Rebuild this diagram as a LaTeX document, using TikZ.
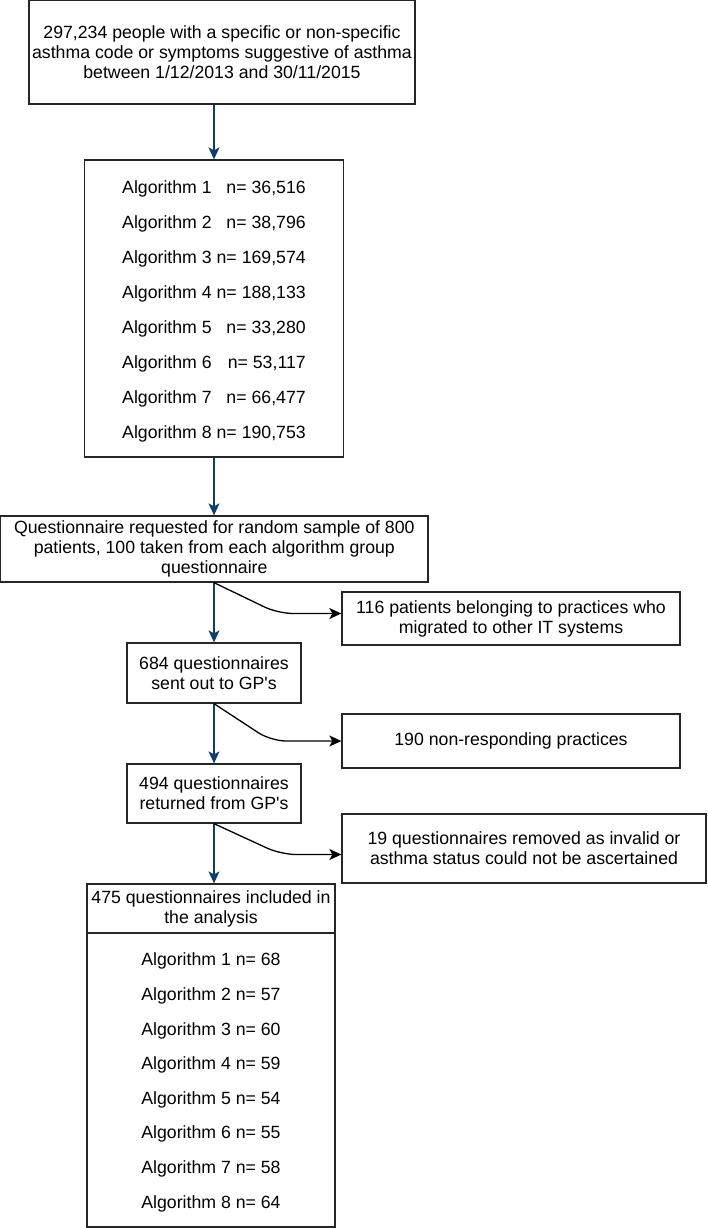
\documentclass[tikz,border=0pt]{standalone}
\usepackage{fontspec}
\setmainfont{Liberation Sans}
\usetikzlibrary{arrows.meta,calc}
\definecolor{navy}{HTML}{103D6E}
\tikzset{
  flowbox/.style={draw=black!85, line width=1.3pt, fill=white, inner sep=0pt, align=center,
    font=\fontsize{17.7}{20}\selectfont},
  downarrow/.style={draw=navy, line width=1.3pt, -{Stealth[length=12pt,width=11pt,inset=3pt]}},
  sidearrow/.style={draw=black, line width=1.3pt, rounded corners=15pt,
    -{Stealth[length=12pt,width=11pt,inset=3pt]}}
}
\begin{document}
\begin{tikzpicture}[x=1pt,y=-1pt]
            \useasboundingbox (0,0) rectangle (707,1228);

            % Main column
            \node[flowbox, minimum width=386pt, minimum height=103.3pt] (people) at (222,52.35)
              {297,234 people with a specific or non-specific\\asthma code or symptoms suggestive of asthma\\between 1/12/2013 and 30/11/2015};
            \node[flowbox, minimum width=259pt, minimum height=297pt] (algs) at (214,308.5)
              {\renewcommand{\arraystretch}{1.75}\begin{tabular}{@{}l@{\ }r@{}}
                Algorithm 1 & n= 36,516\\
                Algorithm 2 & n= 38,796\\
                Algorithm 3 & n= 169,574\\
                Algorithm 4 & n= 188,133\\
                Algorithm 5 & n= 33,280\\
                Algorithm 6 & n= 53,117\\
                Algorithm 7 & n= 66,477\\
                Algorithm 8 & n= 190,753
              \end{tabular}};
            \node[flowbox, minimum width=427.3pt, minimum height=66pt] (request) at (214.35,549)
              {Questionnaire requested for random sample of 800\\patients, 100 taken from each algorithm group\\questionnaire};
            \node[flowbox, minimum width=174pt, minimum height=60pt] (sent) at (214,673)
              {684 questionnaires\\sent out to GP\textquotesingle s};
            \node[flowbox, minimum width=174pt, minimum height=59pt] (returned) at (214,793.5)
              {494 questionnaires\\returned from GP\textquotesingle s};
            \node[flowbox, minimum width=248pt, minimum height=49pt] (included) at (211,908.5)
              {475 questionnaires included in\\the analysis};
            \node[flowbox, minimum width=248pt, minimum height=294pt] (inclalgs) at (211,1080)
              {\renewcommand{\arraystretch}{1.73}\begin{tabular}{@{}l@{\ }l@{}}
                Algorithm 1 & n= 68\\
                Algorithm 2 & n= 57\\
                Algorithm 3 & n= 60\\
                Algorithm 4 & n= 59\\
                Algorithm 5 & n= 54\\
                Algorithm 6 & n= 55\\
                Algorithm 7 & n= 58\\
                Algorithm 8 & n= 64
              \end{tabular}};

            % Exclusions
            \node[flowbox, minimum width=338pt, minimum height=53pt] (migrated) at (511,618.5)
              {116 patients belonging to practices who\\migrated to other IT systems};
            \node[flowbox, minimum width=338pt, minimum height=54pt] (nonresp) at (511,741)
              {190 non-responding practices};
            \node[flowbox, minimum width=364pt, minimum height=69pt] (invalid) at (524,848.5)
              {19 questionnaires removed as invalid or\\asthma status could not be ascertained};

            % Downward arrows
            \draw[downarrow] (algs.north |- people.south) -- (algs.north);
            \draw[downarrow] (algs.south) -- (algs.south |- request.north);
            \draw[downarrow] (sent.north |- request.south) -- (sent.north);
            \draw[downarrow] (sent.south) -- (returned.north);
            \draw[downarrow] (returned.south) -- (returned.south |- included.north);

            % Side arrows
            \coordinate (migin) at ([yshift=5pt]migrated.west);
            \coordinate (invin) at ([yshift=-6pt]invalid.west);
            \coordinate (bend1) at ($(sent.north |- request.south)+(64,0)$);
            \coordinate (bend2) at ($(sent.south)+(57,0)$);
            \coordinate (bend3) at ($(returned.south)+(67,0)$);
            \draw[sidearrow] (sent.north |- request.south) -- (bend1 |- migin) -- (migin);
            \draw[sidearrow] (sent.south) -- (bend2 |- nonresp.west) -- (nonresp.west);
            \draw[sidearrow] (returned.south) -- (bend3 |- invin) -- (invin);
        \end{tikzpicture}
\end{document}
